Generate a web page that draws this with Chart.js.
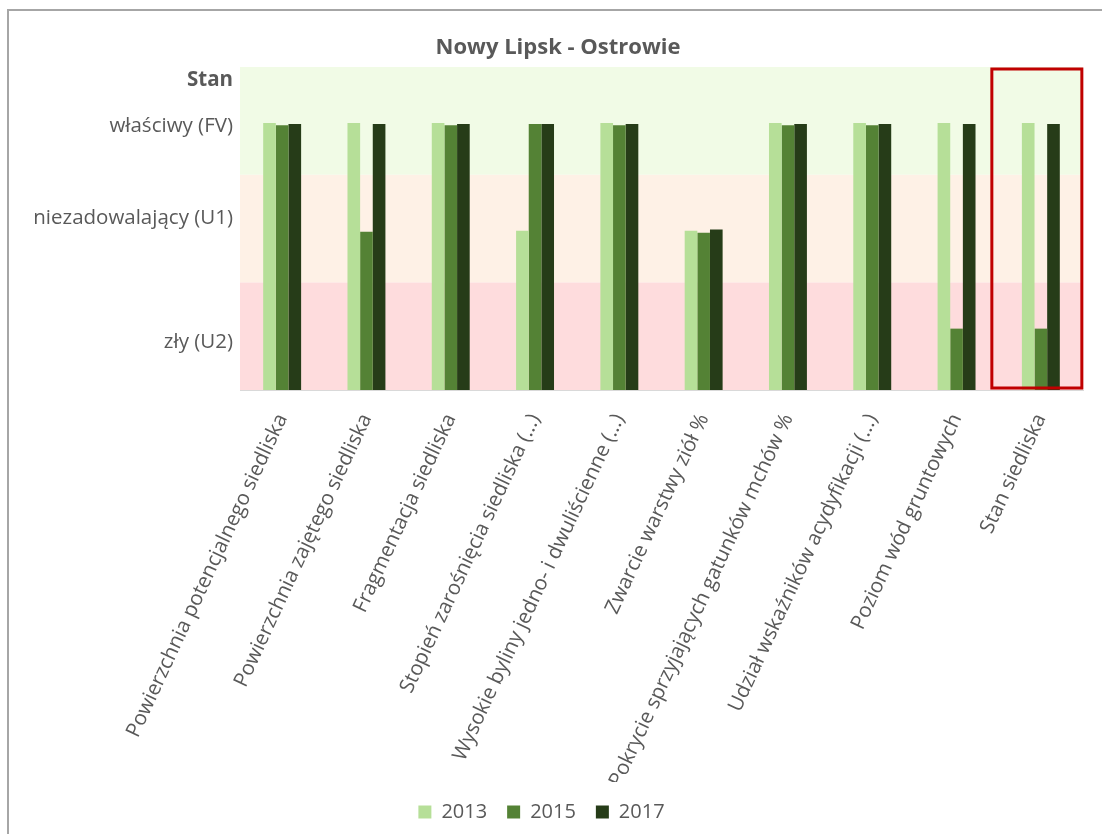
<!DOCTYPE html>
<html>
<head>
<meta charset="utf-8">
<script src="https://cdn.jsdelivr.net/npm/chart.js@4"></script>
<style>
  body { margin: 0; background: #fff; overflow: hidden; }
  #frame { position: absolute; left: 7px; top: 9px; width: 1200px; height: 900px; border: 2px solid #a6a6a6; }
  #wrap { position: absolute; left: 0; top: 0; width: 1102px; height: 834px; }
</style>
</head>
<body>
<div id="frame"></div>
<div id="wrap"><canvas id="chart"></canvas></div>
<script>
// categories (x axis)
const categories = [
  'Powierzchnia potencjalnego siedliska',
  'Powierzchnia zajętego siedliska',
  'Fragmentacja siedliska',
  'Stopień zarośnięcia siedliska (...)',
  'Wysokie byliny jedno- i dwuliścienne (...)',
  'Zwarcie warstwy ziół %',
  'Pokrycie sprzyjających gatunków mchów %',
  'Udział wskaźników acydyfikacji (...)',
  'Poziom wód gruntowych',
  'Stan siedliska'
];

// bar heights (0..3 scale, bands: U2 0-1, U1 1-2, FV 2-3)
const values2013 = [2.48, 2.48, 2.48, 1.48, 2.48, 1.48, 2.48, 2.48, 2.48, 2.48];
const values2015 = [2.46, 1.47, 2.46, 2.47, 2.46, 1.46, 2.46, 2.46, 0.57, 0.57];
const values2017 = [2.47, 2.47, 2.47, 2.47, 2.47, 1.49, 2.47, 2.47, 2.47, 2.47];

// y axis labels and where they sit
const yTickValues = [0.44, 1.6, 2.45, 2.88];
const yTickLabels = ['zły (U2)', 'niezadowalający (U1)', 'właściwy (FV)', 'Stan'];

// background bands
const bandFrom = [0, 1, 2];
const bandTo = [1, 2, 3];
const bandColors = ['#fedcdd', '#fef1e6', '#f1fbe6'];

const chartTitle = 'Nowy Lipsk - Ostrowie';
const textColor = '#595959';
const fontFamily = "'Open Sans', 'Liberation Sans', sans-serif";

// shaded status bands behind the bars
const bandsPlugin = {
  id: 'bands',
  beforeDatasetsDraw(chart) {
    const { ctx, chartArea, scales: { y } } = chart;
    ctx.save();
    bandFrom.forEach((from, i) => {
      const top = y.getPixelForValue(bandTo[i]);
      const bottom = y.getPixelForValue(from);
      ctx.fillStyle = bandColors[i];
      ctx.fillRect(chartArea.left, top, chartArea.right - chartArea.left, bottom - top);
    });
    ctx.restore();
  }
};

// red frame around the last category
const highlightPlugin = {
  id: 'highlight',
  afterDatasetsDraw(chart) {
    const { ctx, chartArea, scales: { x } } = chart;
    const cx = x.getPixelForValue(categories.length - 1);
    ctx.save();
    ctx.strokeStyle = '#c00000';
    ctx.lineWidth = 3;
    ctx.strokeRect(cx - 49, chartArea.top + 2, 90, chartArea.bottom - chartArea.top - 4);
    ctx.restore();
  }
};

// title sits a bit right of the canvas centre in the original
const titlePlugin = {
  id: 'offsetTitle',
  afterDraw(chart) {
    const { ctx } = chart;
    ctx.save();
    ctx.fillStyle = textColor;
    ctx.font = `bold 22px ${fontFamily}`;
    ctx.textAlign = 'center';
    ctx.textBaseline = 'middle';
    ctx.fillText(chartTitle, chart.width / 2 + 7, 48);
    ctx.restore();
  }
};

new Chart(document.getElementById('chart'), {
  type: 'bar',
  data: {
    labels: categories,
    datasets: [
      { label: '2013', data: values2013, backgroundColor: '#b6df98' },
      { label: '2015', data: values2015, backgroundColor: '#548235' },
      { label: '2017', data: values2017, backgroundColor: '#263c18' }
    ]
  },
  options: {
    responsive: true,
    maintainAspectRatio: false,
    animation: false,
    categoryPercentage: 0.45,
    barPercentage: 1.0,
    layout: { padding: { left: 0, right: 19, top: 67, bottom: 2 } },
    plugins: {
      title: { display: false },
      legend: {
        position: 'bottom',
        labels: {
          color: textColor,
          font: { family: fontFamily, size: 20 },
          boxWidth: 13,
          boxHeight: 13,
          padding: 20
        }
      },
      tooltip: { enabled: false }
    },
    scales: {
      x: {
        grid: { display: false, drawTicks: false },
        border: { display: true, color: '#d9d9d9', width: 1 },
        ticks: {
          color: textColor,
          font: { family: fontFamily, size: 20.5 },
          maxRotation: 65,
          minRotation: 65,
          padding: 20,
          autoSkip: false
        },
        afterFit(scale) { scale.height = 392; }
      },
      y: {
        min: 0,
        max: 3,
        grid: { display: false, drawTicks: false },
        border: { display: false },
        afterBuildTicks(scale) {
          scale.ticks = yTickValues.map(v => ({ value: v }));
        },
        afterFit(scale) { scale.width = 240; },
        ticks: {
          color: textColor,
          padding: 7,
          font: ctx => ({
            family: fontFamily,
            size: 20.5,
            weight: ctx.tick && ctx.tick.value === 2.88 ? 'bold' : 'normal'
          }),
          callback: (value) => yTickLabels[yTickValues.indexOf(value)]
        }
      }
    }
  },
  plugins: [bandsPlugin, highlightPlugin, titlePlugin]
});
</script>
</body>
</html>
